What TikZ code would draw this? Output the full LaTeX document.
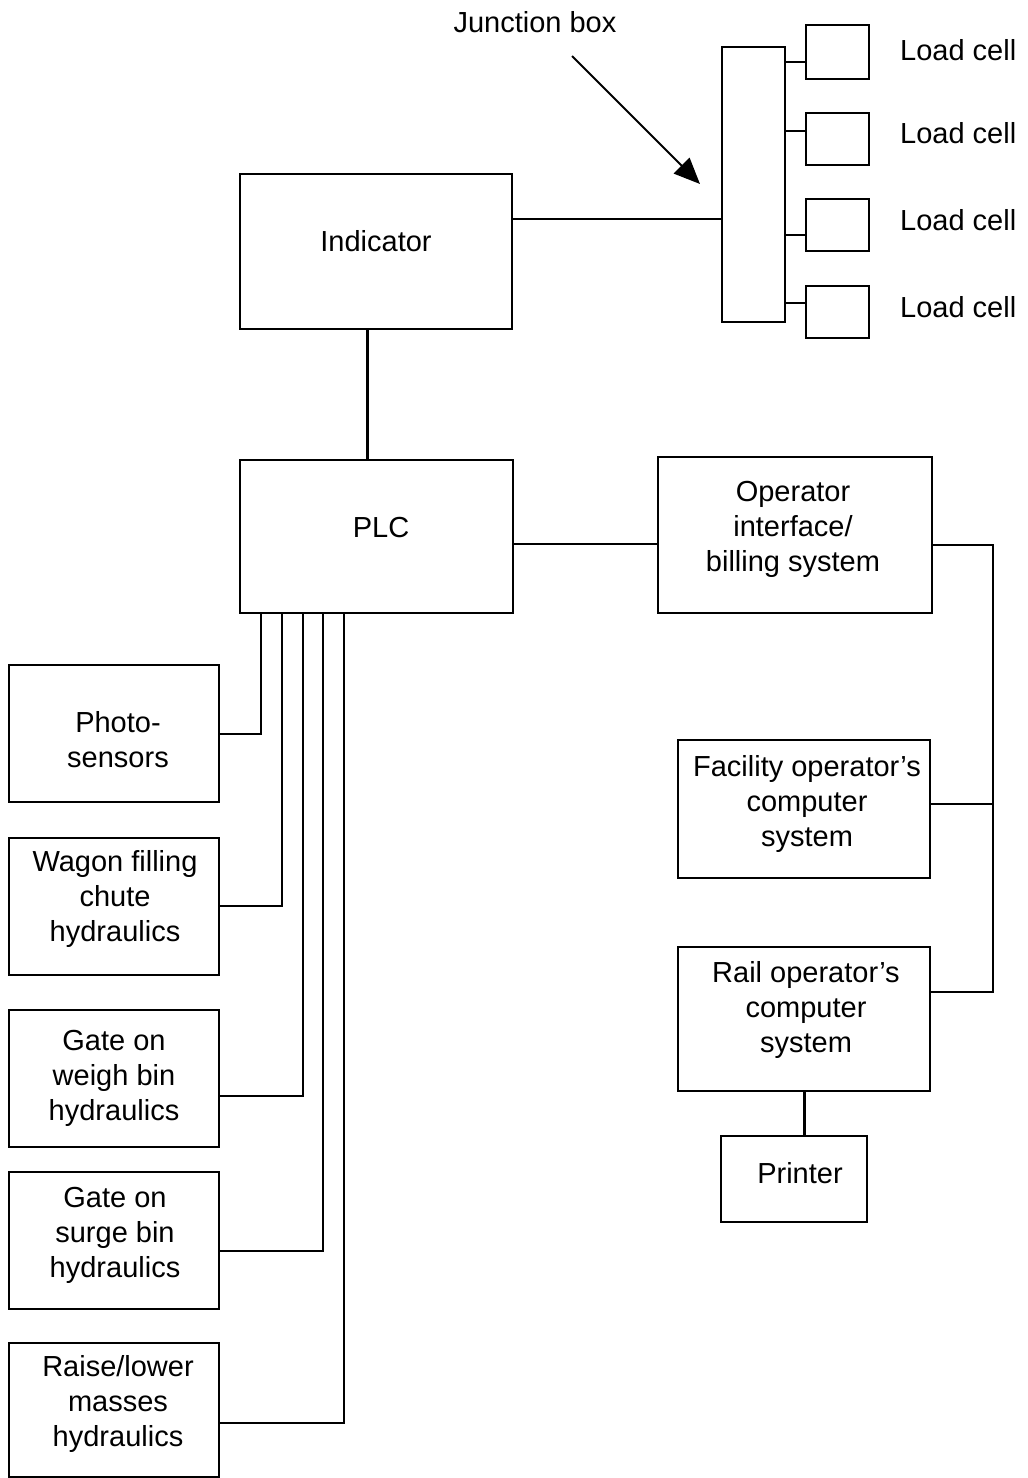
\documentclass[tikz,border=0pt]{standalone}
\usepackage{fontspec}
\setmainfont{Liberation Sans}
\usetikzlibrary{arrows.meta}
\begin{document}
\begin{tikzpicture}[x=1pt,y=-1pt,
  box/.style={draw, line width=1.6pt, inner sep=0pt},
  txt/.style={font=\fontsize{29}{35}\selectfont, align=center, inner sep=0pt},
  wire/.style={line width=1.6pt},
  heavywire/.style={line width=3pt}]
\useasboundingbox[fill=white] (0,0) rectangle (1028,1478);

% top
\node[txt] (jbt) at (535,22) {Junction box};
\node[box, minimum width=63pt, minimum height=275pt] (jb) at (753.5,184.5) {};
\node[box, minimum width=63pt, minimum height=54pt] (lc1) at (837.5,52) {};
\node[box, minimum width=63pt, minimum height=52pt] (lc2) at (837.5,139) {};
\node[box, minimum width=63pt, minimum height=52pt] (lc3) at (837.5,225) {};
\node[box, minimum width=63pt, minimum height=52pt] (lc4) at (837.5,312) {};
\node[txt, anchor=west] (lt1) at (900,50) {Load cell};
\node[txt, anchor=west] (lt2) at (900,133) {Load cell};
\node[txt, anchor=west] (lt3) at (900,220) {Load cell};
\node[txt, anchor=west] (lt4) at (900,307) {Load cell};

\node[box, minimum width=272pt, minimum height=155pt] (ind) at (376,251.5) {};
\node[txt] (indt) at (376,241) {Indicator};

\node[box, minimum width=273pt, minimum height=153pt] (plc) at (376.5,536.5) {};
\node[txt] (plct) at (381,528) {PLC};

\node[box, minimum width=274pt, minimum height=156pt] (op) at (795,535) {};
\node[txt] (opt) at (793,529) {Operator\\interface/\\billing system};

\node[box, minimum width=252pt, minimum height=138pt] (fac) at (804,809) {};
\node[txt] (fact) at (807,804) {Facility operator’s\\computer\\system};

\node[box, minimum width=252pt, minimum height=144pt] (rail) at (804,1019) {};
\node[txt] (railt) at (806,1010) {Rail operator’s\\computer\\system};

\node[box, minimum width=146pt, minimum height=86pt] (prn) at (794,1179) {};
\node[txt] (prnt) at (800,1173) {Printer};

% left boxes
\node[box, minimum width=210pt, minimum height=137pt] (ph) at (114,733.5) {};
\node[txt] (pht) at (118,740) {Photo-\\sensors};
\node[box, minimum width=210pt, minimum height=137pt] (wg) at (114,906.5) {};
\node[txt] (wgt) at (115,899) {Wagon filling\\chute\\hydraulics};
\node[box, minimum width=210pt, minimum height=137pt] (gw) at (114,1078.5) {};
\node[txt] (gwt) at (114,1078) {Gate on\\weigh bin\\hydraulics};
\node[box, minimum width=210pt, minimum height=137pt] (gs) at (114,1240.5) {};
\node[txt] (gst) at (115,1235) {Gate on\\surge bin\\hydraulics};
\node[box, minimum width=210pt, minimum height=134pt] (rl) at (114,1410) {};
\node[txt] (rlt) at (118,1404) {Raise/lower\\masses\\hydraulics};

% connectors
\coordinate (arrS) at (572,56);
\coordinate (arrT) at (700,184);
\draw[line width=2pt, -{Triangle[length=26pt,width=22pt]}] (arrS) -- (arrT);

\draw[wire] (ind.east |- 0,219) -- (jb.west |- 0,219);
\draw[wire] (jb.east |- 0,62) -- (lc1.west |- 0,62);
\draw[wire] (jb.east |- 0,131) -- (lc2.west |- 0,131);
\draw[wire] (jb.east |- 0,235) -- (lc3.west |- 0,235);
\draw[wire] (jb.east |- 0,303) -- (lc4.west |- 0,303);

\draw[heavywire] (ind.south -| 367,0) -- (plc.north -| 367,0);
\draw[wire] (plc.east |- 0,544) -- (op.west |- 0,544);

\coordinate (bus) at (993,545);
\draw[wire] (op.east |- bus) -- (bus) -- (bus |- 0,992) -- (rail.east |- 0,992);
\draw[wire] (fac.east |- 0,804) -- (bus |- 0,804);
\draw[heavywire] (rail.south -| 804,0) -- (prn.north -| 804,0);

\draw[wire] (plc.south -| 261,0) -- (261,734) -- (ph.east |- 0,734);
\draw[wire] (plc.south -| 282,0) -- (282,906) -- (wg.east |- 0,906);
\draw[wire] (plc.south -| 303,0) -- (303,1096) -- (gw.east |- 0,1096);
\draw[wire] (plc.south -| 323,0) -- (323,1251) -- (gs.east |- 0,1251);
\draw[wire] (plc.south -| 344,0) -- (344,1423) -- (rl.east |- 0,1423);
\end{tikzpicture}
\end{document}
